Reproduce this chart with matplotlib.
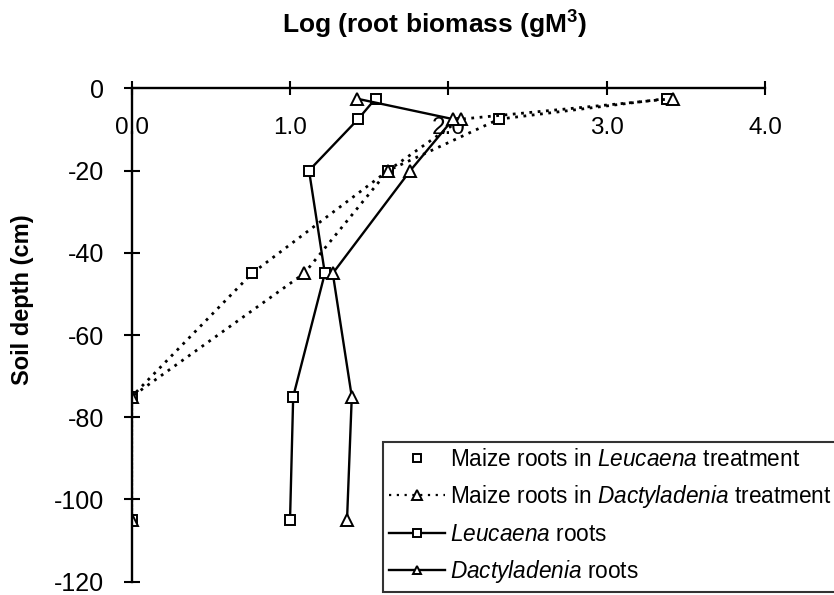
import matplotlib
matplotlib.use("Agg")
import matplotlib.pyplot as plt
from matplotlib.lines import Line2D

plt.rcParams['font.family'] = ['Liberation Sans', 'DejaVu Sans']
plt.rcParams['axes.unicode_minus'] = False
plt.rcParams['mathtext.fontset'] = 'custom'
plt.rcParams['mathtext.it'] = 'Liberation Sans:italic'
plt.rcParams['mathtext.rm'] = 'Liberation Sans'
plt.rcParams['mathtext.bf'] = 'Liberation Sans:bold'

# Data
depths = [-2.5, -7.5, -20, -45, -75, -105]
maize_leucaena = [3.38, 2.32, 1.62, 0.76, 0.0, 0.0]
maize_dactyladenia = [3.42, 2.08, 1.62, 1.09, 0.0, 0.0]
leucaena_roots = [1.54, 1.43, 1.12, 1.22, 1.02, 1.00]
dactyladenia_roots = [1.42, 2.03, 1.76, 1.27, 1.39, 1.36]

x_ticks = [0.0, 1.0, 2.0, 3.0, 4.0]
x_ticklabels = ["0.0", "1.0", "2.0", "3.0", "4.0"]
y_ticks = [0, -20, -40, -60, -80, -100, -120]

labels = [r"Maize roots in $\mathit{Leucaena}$ treatment",
          r"Maize roots in $\mathit{Dactyladenia}$ treatment",
          r"$\mathit{Leucaena}$ roots",
          r"$\mathit{Dactyladenia}$ roots"]

W, H = 834, 595
fig = plt.figure(figsize=(W / 100, H / 100), dpi=100)
ax = fig.add_axes([131.7 / W, 1 - 581.7 / H, (765 - 131.7) / W, (581.7 - 88.3) / H])

mk = dict(markerfacecolor='white', markeredgecolor='black', color='black')
ax.plot(maize_leucaena, depths, linestyle=(0, (1, 2)), lw=2.0, marker='s', ms=6.5, mew=1.4, **mk)
ax.plot(maize_dactyladenia, depths, linestyle=(0, (1, 2)), lw=2.0, marker='^', ms=8, mew=1.4, **mk)
ax.plot(leucaena_roots, depths, linestyle='-', lw=1.7, marker='s', ms=6.5, mew=1.4, **mk)
ax.plot(dactyladenia_roots, depths, linestyle='-', lw=1.7, marker='^', ms=8, mew=1.4, **mk)

ax.set_xlim(0, 4.0)
ax.set_ylim(-120, 0)
ax.set_xticks(x_ticks)
ax.set_xticklabels(x_ticklabels)
ax.set_yticks(y_ticks)

for s in ['right', 'top']:
    ax.spines[s].set_visible(False)
ax.spines['bottom'].set_position(('data', 0))
ax.spines['bottom'].set_linewidth(1.7)
ax.spines['left'].set_linewidth(1.7)
ax.spines['bottom'].set_zorder(0)

ax.tick_params(axis='x', direction='inout', length=10, width=1.5, pad=15.5, labelsize=17.5)
ax.tick_params(axis='y', direction='inout', length=12, width=1.5, pad=14, labelsize=18)

ax.set_ylabel("Soil depth (cm)", fontsize=17, fontweight='bold', va='center')
ax.yaxis.set_label_coords(-0.172, 0.571)

ax.set_title(r"Log (root biomass (gM$^{\mathbf{3}}$)", fontsize=19, fontweight='bold',
             x=0.478, y=1.112, va='center')

handles = [
    Line2D([], [], linestyle='none', marker='s', ms=6, mew=1.4, **mk),
    Line2D([], [], linestyle=(0, (1, 2.5)), lw=1.6, marker='^', ms=6.5, mew=1.4, **mk),
    Line2D([], [], linestyle='-', lw=1.7, marker='s', ms=5.5, mew=1.4, **mk),
    Line2D([], [], linestyle='-', lw=1.7, marker='^', ms=6, mew=1.4, **mk),
]
leg = fig.legend(handles, labels, loc='upper left', bbox_to_anchor=(383 / W, 1 - 441.5 / H),
                 fontsize=16.3, frameon=True, fancybox=False, edgecolor='black',
                 borderpad=0.28, borderaxespad=0, handlelength=2.45, handletextpad=0.22,
                 labelspacing=0.55)
leg.get_frame().set_linewidth(1.5)

fig.savefig("out.png", dpi=100)
